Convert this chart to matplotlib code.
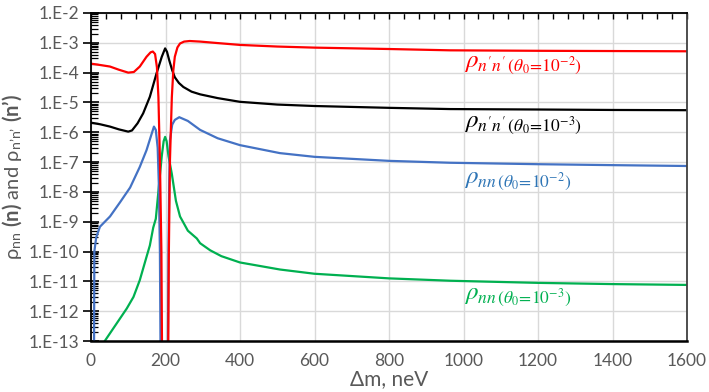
import numpy as np
import matplotlib
matplotlib.use("Agg")
import matplotlib.pyplot as plt
from matplotlib.ticker import LogLocator, FuncFormatter, MultipleLocator, NullFormatter

plt.rcParams['font.family'] = ['Lato', 'DejaVu Sans']
plt.rcParams['mathtext.fontset'] = 'custom'
plt.rcParams['mathtext.rm'] = 'Lato'
plt.rcParams['mathtext.bf'] = 'Lato:bold'
plt.rcParams['mathtext.it'] = 'STIXGeneral:italic'

# rho_n'n', theta0 = 1e-2 (red)
red_x = [0, 25, 51, 75, 100, 115, 131, 149, 160, 166, 172, 177, 181, 185, 189, 191,
         207, 209, 212, 217, 221, 225, 232, 239, 250, 265, 293, 340, 400, 500, 600,
         800, 964, 1200, 1400, 1600]
red_y = [2.0e-4, 1.8e-4, 1.6e-4, 1.25e-4, 1.0e-4, 1.05e-4, 1.6e-4, 3.4e-4, 4.8e-4,
         5.1e-4, 4.2e-4, 1.5e-4, 1.5e-5, 1.2e-7, 1e-10, 1e-14,
         1e-14, 1e-10, 1.2e-7, 1.5e-5, 1.2e-4, 3.4e-4, 7e-4, 9.5e-4, 1.1e-3, 1.15e-3,
         1.1e-3, 9.8e-4, 8.5e-4, 7.5e-4, 6.9e-4, 6.2e-4, 5.6e-4, 5.4e-4, 5.3e-4, 5.2e-4]

# rho_n'n', theta0 = 1e-3 (black)
blk_x = [0, 25, 51, 75, 100, 110, 125, 140, 158, 176, 190, 199, 204, 210, 218, 225,
         236, 248, 270, 293, 340, 400, 500, 600, 800, 964, 1200, 1400, 1600]
blk_y = [2.1e-6, 1.85e-6, 1.55e-6, 1.25e-6, 1.05e-6, 1.15e-6, 2e-6, 4.3e-6, 1.55e-5,
         9.5e-5, 3.4e-4, 6.5e-4, 5e-4, 2.6e-4, 1.2e-4, 7e-5, 4.5e-5, 3.3e-5, 2.3e-5,
         1.87e-5, 1.4e-5, 1.05e-5, 8.5e-6, 7.6e-6, 6.6e-6, 6.0e-6, 5.8e-6, 5.6e-6, 5.5e-6]

# rho_nn, theta0 = 1e-2 (blue)
blu_x = [8, 9, 14, 24, 51, 78, 105, 131, 149, 163, 169, 174, 179, 182, 185, 187,
         206, 208, 210, 212, 218, 225, 237, 260, 293, 340, 400, 507, 600, 800, 964,
         1200, 1400, 1600]
blu_y = [1e-14, 1e-10, 3e-10, 6.8e-10, 1.5e-9, 4.5e-9, 1.4e-8, 6.9e-8, 2.5e-7, 9e-7,
         1.55e-6, 1.2e-6, 3e-7, 2e-8, 1e-10, 1e-14,
         1e-14, 1e-10, 2e-8, 5.5e-7, 1.8e-6, 2.6e-6, 3.2e-6, 2.4e-6, 1.2e-6, 6.3e-7,
         3.7e-7, 2e-7, 1.5e-7, 1.1e-7, 9.5e-8, 8.5e-8, 7.9e-8, 7.4e-8]

# rho_nn, theta0 = 1e-3 (green)
grn_x = [37, 69, 96, 114, 131, 149, 158, 167, 174, 183, 190, 195, 199, 203, 208, 217,
         228, 239, 260, 284, 293, 320, 350, 400, 507, 600, 800, 964, 1200, 1400, 1600]
grn_y = [1e-13, 3.9e-13, 1.23e-12, 3.0e-12, 1.1e-11, 6.6e-11, 1.6e-10, 6.3e-10, 1.26e-9,
         1.95e-8, 1.6e-7, 5e-7, 7e-7, 5e-7, 1.6e-7, 4e-8, 5e-9, 1.5e-9, 5e-10, 2.75e-10,
         1.9e-10, 1.1e-10, 7e-11, 4.3e-11, 2.5e-11, 1.8e-11, 1.26e-11, 1.05e-11, 8.9e-12,
         8.1e-12, 7.6e-12]

labels = [r"$\rho_{n^{\prime}n^{\prime}\,(\theta_0\!=\!10^{-2})}$",
          r"$\rho_{n^{\prime}n^{\prime}\,(\theta_0\!=\!10^{-3})}$",
          r"$\rho_{nn\,(\theta_0\!=\!10^{-2})}$",
          r"$\rho_{nn\,(\theta_0\!=\!10^{-3})}$"]
label_x = [1000, 1000, 1000, 1000]
label_y = [1.7e-4, 1.75e-6, 2.2e-8, 2.8e-12]
label_col = ['#FF0000', '#000000', '#2E75B6', '#00B050']

fig = plt.figure(figsize=(7.09, 3.92), dpi=100)
ax = fig.add_axes([91/709, 51/392, 596/709, 328/392])

ax.plot(grn_x, grn_y, color='#00B050', lw=1.6)
ax.plot(blu_x, blu_y, color='#4472C4', lw=1.6)
ax.plot(blk_x, blk_y, color='#000000', lw=1.6)
ax.plot(red_x, red_y, color='#FF0000', lw=1.6)

ax.set_yscale('log')
ax.set_ylim(1e-13, 1e-2)
ax.set_xlim(0, 1600)

ax.yaxis.set_major_locator(LogLocator(base=10, numticks=20))
ax.yaxis.set_minor_locator(LogLocator(base=10, subs=np.arange(2, 10), numticks=20))
ax.yaxis.set_major_formatter(FuncFormatter(lambda v, p: "1.E%d" % round(np.log10(v))))
ax.yaxis.set_minor_formatter(NullFormatter())
ax.xaxis.set_major_locator(MultipleLocator(200))
ax.xaxis.set_minor_locator(MultipleLocator(40))

ax.grid(True, which='major', color='#d9d9d9', lw=1)
ax.set_axisbelow(True)

ax.tick_params(axis='y', which='major', direction='inout', length=11, width=1.2,
               labelsize=12.5, labelcolor='#595959', pad=3)
ax.tick_params(axis='y', which='minor', direction='in', length=5, width=0.9)
ax.tick_params(axis='x', which='both', bottom=False, top=True, direction='in',
               length=4, width=1, labelsize=12.5, labelcolor='#595959', pad=9)

for s in ax.spines.values():
    s.set_color('black')
    s.set_linewidth(1.3)
ax.spines['bottom'].set_linewidth(1.8)
ax.spines['right'].set_color('#404040')

ax.set_xlabel("Δm, neV", fontsize=15, color='#595959', labelpad=0)
ax.set_ylabel("ρ$_{\\mathregular{nn}}$ $\\mathbf{(n)}$ and ρ$_{\\mathregular{n\u2019n\u2019}}$ $\\mathbf{(n\u2019)}$",
              fontsize=14.5, color='#595959', labelpad=3)

for t, x, y, c in zip(labels, label_x, label_y, label_col):
    ax.text(x, y, t, color=c, fontsize=18, va='center', ha='left', math_fontfamily='stix')

fig.savefig("out.png", dpi=100)
